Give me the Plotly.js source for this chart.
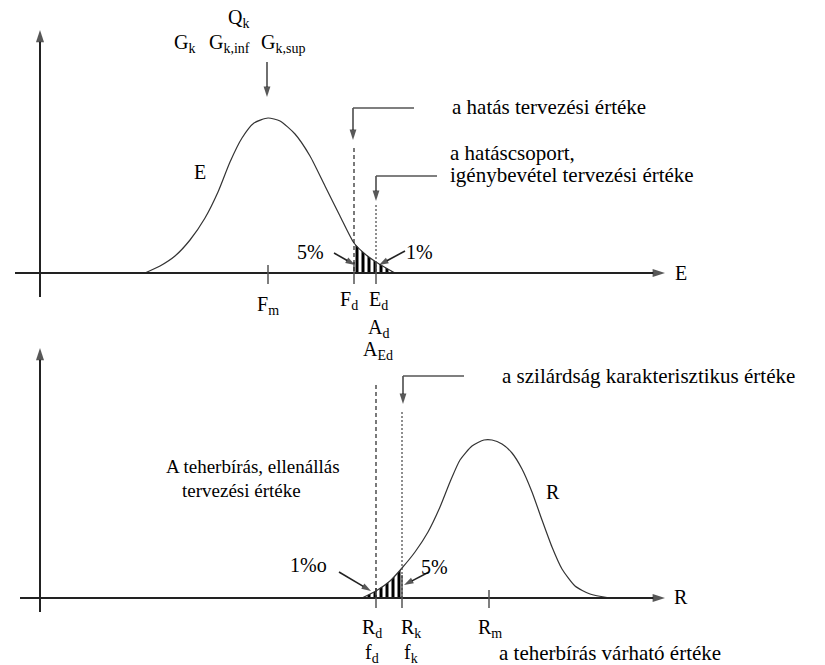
<!DOCTYPE html>
<html><head><meta charset="utf-8">
<script src="https://cdn.plot.ly/plotly-3.0.1.min.js"></script>
<style>html,body{margin:0;padding:0;background:#fff}</style>
</head><body><div id="c" style="width:825px;height:665px"></div>
<script>
// Effect distribution curve E (top panel) (x, height in px units)
const E_x = [145, 160, 175, 190, 205, 218, 230, 242, 254, 268, 280, 295, 310, 325, 340, 354, 365, 376, 386, 395];
const E_y = [273, 266, 256, 240, 218, 192, 162, 138, 123, 118, 121, 134, 156, 186, 216, 243, 254, 262, 268, 273];
// Resistance distribution curve R (bottom panel)
const R_x = [362, 376, 390, 402, 415, 428, 440, 450, 460, 472, 484, 492, 502, 512, 522, 532, 542, 552, 562, 575, 590, 610];
const R_y = [598, 591, 581, 568, 552, 532, 507, 482, 460, 446, 440, 440, 444, 453, 469, 492, 520, 547, 569, 586, 594, 598];
// Characteristic points
const topMarkNames = ['F<sub>m</sub>', 'F<sub>d</sub>', 'E<sub>d</sub>'];
const topMarkX = [268, 354, 376];
const botMarkNames = ['R<sub>d</sub>', 'R<sub>k</sub>', 'R<sub>m</sub>'];
const botMarkX = [376, 402, 489];
const topPercents = ['5%', '1%'];
const botPercents = ['1%o', '5%'];

// Centred labels: text, x, y
const cLabels = ['Q<sub>k</sub>', 'G<sub>k</sub>', 'G<sub>k,inf</sub>', 'G<sub>k,sup</sub>', 'E', 'E',
  topMarkNames[0], topMarkNames[1], topMarkNames[2], 'A<sub>d</sub>', 'A<sub>Ed</sub>', topPercents[0], topPercents[1],
  'R', 'R', botPercents[0], botPercents[1], botMarkNames[0], botMarkNames[1], botMarkNames[2], 'f<sub>d</sub>', 'f<sub>k</sub>'];
const cX = [238, 184, 229, 283, 200, 681, topMarkX[0], 349, 378, 378, 378, 310, 419, 553, 681, 308, 434, 372, 411, 490, 372, 411];
const cY = [18, 43, 43, 43, 172, 273, 305, 300, 300, 328, 350, 252, 252, 492, 597, 565, 567, 628, 628, 628, 653, 653];
// Left-aligned captions
const lLabels = ['a hatás tervezési értéke', 'a hatáscsoport,', 'igénybevétel tervezési értéke',
  'a szilárdság karakterisztikus értéke', 'A teherbírás, ellenállás', 'tervezési értéke', 'a teherbírás várható értéke'];
const lX = [450, 448, 448, 500, 164, 180, 497];
const lY = [107, 153, 175, 376, 466, 490, 653];
const lSize = [21, 21, 21, 21, 19, 19, 21];

const baseTop = 273, baseBot = 598;
const FONT = 'Liberation Serif';
const lineCol = '#333';
const axCol = '#555';

function tail(xs, ys, x0, x1, base) {
  const px = [], py = [];
  for (let i = 0; i < xs.length; i++) if (xs[i] >= x0 && xs[i] <= x1) { px.push(xs[i]); py.push(ys[i]); }
  px.push(px[px.length - 1], px[0], px[0]);
  py.push(base, base, py[0]);
  return {x: px, y: py};
}
const shTop = tail(E_x, E_y, topMarkX[1], 400, baseTop);
const shBot = tail(R_x, R_y, 362, botMarkX[1], baseBot);
const pat = {shape: '|', size: 6, solidity: 0.5, fgcolor: '#000', bgcolor: 'rgba(0,0,0,0)'};

const traces = [
  {x: shTop.x, y: shTop.y, mode: 'lines', fill: 'toself', fillcolor: 'rgba(0,0,0,0)', fillpattern: pat, line: {width: 0}, hoverinfo: 'skip'},
  {x: shBot.x, y: shBot.y, mode: 'lines', fill: 'toself', fillcolor: 'rgba(0,0,0,0)', fillpattern: pat, line: {width: 0}, hoverinfo: 'skip'},
  {x: E_x, y: E_y, mode: 'lines', line: {color: lineCol, width: 1.2, shape: 'spline', smoothing: 0.6}},
  {x: R_x, y: R_y, mode: 'lines', line: {color: lineCol, width: 1.2, shape: 'spline', smoothing: 0.6}}
];

function arrow(tx, ty, hx, hy, w, sz) {
  traces.push({x: [tx, hx], y: [ty, hy], mode: 'lines+markers', hoverinfo: 'skip',
    line: {color: '#222', width: w || 1.3},
    marker: {symbol: ['circle', 'arrow'], size: [0, sz || 11], angleref: 'previous', color: '#111', line: {width: 0}}});
}
arrow(40, 297, 40, 30, 2, 13); arrow(15, baseTop, 665, baseTop, 2, 13);
arrow(40, 612, 40, 348, 2, 13); arrow(20, baseBot, 665, baseBot, 2, 13);
arrow(267, 62, 267, 97, 1.3, 11);
arrow(353, 108, 353, 140, 1.3, 11);
arrow(376, 176, 376, 201, 1.3, 11);
arrow(334, 253, 355, 265, 1.6, 10);
arrow(405, 251, 379, 265, 1.6, 10);
arrow(403, 376, 403, 404, 1.3, 11);
arrow(339, 572, 371, 591, 1.6, 10);
arrow(429, 572, 404, 585, 1.6, 10);

const annotations = [];
cLabels.forEach((t, i) => annotations.push({x: cX[i], y: cY[i], xref: 'x', yref: 'y', text: t, showarrow: false,
  xanchor: 'center', yanchor: 'middle', font: {family: FONT, size: 20, color: '#000'}}));
lLabels.forEach((t, i) => annotations.push({x: lX[i], y: lY[i], xref: 'x', yref: 'y', text: t, showarrow: false,
  xanchor: 'left', yanchor: 'middle', font: {family: FONT, size: lSize[i], color: '#000'}}));

function ln(x0, y0, x1, y1, w, dash, col) {
  return {type: 'line', xref: 'x', yref: 'y', x0, y0, x1, y1, line: {color: col || axCol, width: w || 1.5, dash: dash || 'solid'}};
}
const shapes = [
  ln(topMarkX[0], 265, topMarkX[0], 284, 1.5),
  ln(topMarkX[1], 262, topMarkX[1], 284, 1.5),
  ln(topMarkX[2], 262, topMarkX[2], 284, 1.5),
  ln(topMarkX[1], 148, topMarkX[1], baseTop, 1.2, '4px,3px', '#222'),
  ln(topMarkX[2], 205, topMarkX[2], baseTop, 1.2, '2px,2px', '#444'),
  ln(353, 108, 414, 108, 1.5),
  ln(376, 176, 437, 176, 1.5),
  ln(botMarkX[0], 588, botMarkX[0], 608, 1.5),
  ln(botMarkX[1], 575, botMarkX[1], 608, 1.5),
  ln(botMarkX[2], 590, botMarkX[2], 608, 1.5),
  ln(botMarkX[0], 385, botMarkX[0], baseBot, 1.2, '4px,3px', '#222'),
  ln(botMarkX[1], 412, botMarkX[1], baseBot, 1.2, '2px,2px', '#444'),
  ln(403, 376, 464, 376, 1.5)
];

const layout = {
  width: 825, height: 665, margin: {l: 0, r: 0, t: 0, b: 0},
  font: {family: FONT, size: 20, color: '#000'},
  paper_bgcolor: '#fff', plot_bgcolor: '#fff', showlegend: false,
  xaxis: {range: [0, 825], visible: false, fixedrange: true},
  yaxis: {range: [665, 0], visible: false, fixedrange: true},
  shapes, annotations
};
Plotly.newPlot('c', traces, layout, {displayModeBar: false});
</script></body></html>
